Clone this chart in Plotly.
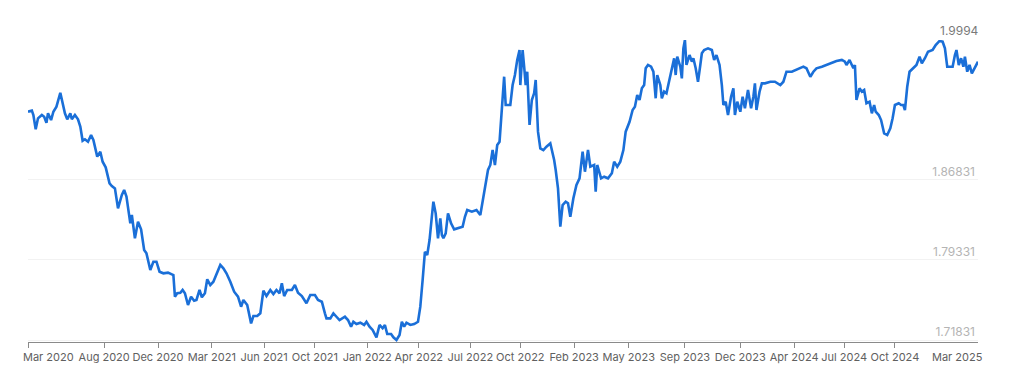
import plotly.graph_objects as go

# Trading-day index of each observation (Mar 2020 -> Mar 2025)
day = [0, 5, 7, 10, 13, 18, 21, 24, 26, 30, 33, 37, 42, 45, 48, 51, 55, 57, 61, 65,
       68, 71, 74, 78, 82, 85, 88, 90, 94, 97, 101, 106, 109, 113, 117, 122, 125, 128, 133, 135,
       139, 143, 147, 151, 154, 159, 163, 167, 171, 176, 182, 189, 191, 194, 198, 201, 204, 208, 212, 216,
       219, 223, 226, 230, 233, 237, 241, 245, 250, 254, 258, 263, 268, 273, 277, 280, 285, 290, 293, 298,
       302, 306, 310, 315, 319, 323, 327, 330, 333, 337, 343, 347, 351, 356, 362, 367, 373, 377, 382, 386,
       388, 393, 397, 401, 405, 412, 416, 420, 423, 427, 432, 437, 440, 444, 448, 453, 457, 461, 464, 467,
       472, 475, 479, 483, 486, 489, 492, 497, 502, 507, 510, 513, 516, 519, 522, 525, 527, 530, 533, 536,
       538, 540, 543, 546, 550, 554, 559, 565, 568, 571, 577, 583, 588, 591, 594, 598, 601, 604, 607, 610,
       613, 616, 619, 621, 627, 630, 633, 636, 639, 640, 643, 645, 647, 649, 652, 655, 658, 660, 663, 666,
       670, 674, 679, 681, 684, 686, 689, 692, 695, 699, 702, 705, 709, 713, 717, 721, 724, 728, 731, 736,
       738, 740, 745, 749, 754, 759, 762, 766, 770, 774, 777, 782, 786, 789, 792, 795, 798, 801, 803, 806,
       810, 813, 816, 818, 822, 824, 827, 830, 834, 837, 840, 842, 844, 848, 850, 852, 854, 856, 860, 863,
       865, 868, 871, 874, 876, 879, 884, 889, 892, 895, 899, 902, 904, 907, 910, 914, 917, 919, 922, 926,
       929, 932, 936, 940, 943, 945, 947, 951, 954, 958, 965, 971, 978, 982, 986, 993, 999, 1008, 1012, 1017,
       1021, 1025, 1032, 1038, 1045, 1051, 1058, 1062, 1064, 1068, 1071, 1073, 1075, 1077, 1081, 1084, 1087, 1090, 1094, 1097,
       1100, 1102, 1106, 1109, 1113, 1117, 1121, 1124, 1127, 1132, 1135, 1138, 1140, 1143, 1146, 1150, 1155, 1159, 1162, 1166,
       1170, 1176, 1180, 1185, 1189, 1192, 1195, 1199, 1202, 1205, 1207, 1210, 1213, 1216, 1218, 1221, 1224, 1227, 1230, 1233,
       1235]

rate = [1.9322, 1.9332, 1.9291, 1.9157, 1.9260, 1.9291, 1.9275, 1.9219, 1.9307, 1.9244, 1.9322, 1.9369, 1.9500, 1.9385, 1.9307, 1.9251, 1.9307, 1.9251, 1.9291, 1.9251,
        1.9182, 1.9050, 1.9064, 1.9041, 1.9104, 1.9057, 1.8963, 1.8901, 1.8947, 1.8854, 1.8801, 1.8651, 1.8626, 1.8604, 1.8417, 1.8542, 1.8589, 1.8526, 1.8276, 1.8354,
        1.8136, 1.8291, 1.8220, 1.8026, 1.7995, 1.7839, 1.7917, 1.7917, 1.7823, 1.7808, 1.7814, 1.7792, 1.7589, 1.7621, 1.7626, 1.7652, 1.7621, 1.7511, 1.7589, 1.7551,
        1.7558, 1.7652, 1.7583, 1.7621, 1.7752, 1.7698, 1.7729, 1.7792, 1.7886, 1.7855, 1.7808, 1.7729, 1.7636, 1.7589, 1.7495, 1.7558, 1.7511, 1.7339, 1.7408, 1.7408,
        1.7433, 1.7645, 1.7595, 1.7652, 1.7614, 1.7652, 1.7621, 1.7714, 1.7595, 1.7652, 1.7652, 1.7698, 1.7626, 1.7595, 1.7527, 1.7605, 1.7605, 1.7558, 1.7542, 1.7433,
        1.7386, 1.7386, 1.7433, 1.7401, 1.7370, 1.7401, 1.7370, 1.7308, 1.7354, 1.7333, 1.7345, 1.7324, 1.7354, 1.7308, 1.7277, 1.7208, 1.7324, 1.7293, 1.7324, 1.7239,
        1.7239, 1.7208, 1.71831, 1.7230, 1.7354, 1.7308, 1.7345, 1.7324, 1.7333, 1.7354, 1.7495, 1.7745, 1.8010, 1.7979, 1.8120, 1.8338, 1.8479, 1.8370, 1.8136, 1.8323,
        1.8167, 1.8136, 1.8183, 1.8370, 1.8276, 1.8220, 1.8230, 1.8245, 1.8338, 1.8401, 1.8385, 1.8401, 1.8354, 1.8479, 1.8607, 1.8776, 1.8823, 1.8963, 1.8823, 1.9010,
        1.9041, 1.9385, 1.9650, 1.9385, 1.9385, 1.9572, 1.9666, 1.9807, 1.9900, 1.9572, 1.9900, 1.9744, 1.9572, 1.9697, 1.9198, 1.9432, 1.9495, 1.9619, 1.9135, 1.8979,
        1.8963, 1.8994, 1.9026, 1.8963, 1.8870, 1.8776, 1.8604, 1.8245, 1.8448, 1.8479, 1.8464, 1.8338, 1.8511, 1.8635, 1.8698, 1.8947, 1.8760, 1.8963, 1.8807, 1.8823,
        1.8573, 1.8823, 1.8698, 1.8713, 1.8698, 1.8745, 1.8854, 1.8807, 1.8854, 1.8963, 1.9135, 1.9228, 1.9338, 1.9369, 1.9479, 1.9432, 1.9541, 1.9572, 1.9729, 1.9760,
        1.9744, 1.9697, 1.9448, 1.9666, 1.9572, 1.9448, 1.9510, 1.9495, 1.9635, 1.9729, 1.9823, 1.9666, 1.9838, 1.9744, 1.9635, 1.9916, 1.9994, 1.9760, 1.9853, 1.9791,
        1.9823, 1.9729, 1.9603, 1.9760, 1.9869, 1.9900, 1.9916, 1.9900, 1.9807, 1.9853, 1.9760, 1.9572, 1.9385, 1.9416, 1.9291, 1.9463, 1.9541, 1.9291, 1.9416, 1.9322,
        1.9463, 1.9354, 1.9526, 1.9354, 1.9463, 1.9588, 1.9338, 1.9510, 1.9588, 1.9588, 1.9603, 1.9603, 1.9572, 1.9603, 1.9697, 1.9697, 1.9713, 1.9744, 1.9729, 1.9650,
        1.9697, 1.9729, 1.9744, 1.9760, 1.9776, 1.9797, 1.9807, 1.9791, 1.9760, 1.9807, 1.9760, 1.9729, 1.9760, 1.9432, 1.9541, 1.9510, 1.9526, 1.9401, 1.9416, 1.9307,
        1.9385, 1.9322, 1.9291, 1.9244, 1.9120, 1.9104, 1.9167, 1.9260, 1.9385, 1.9401, 1.9385, 1.9385, 1.9338, 1.9556, 1.9697, 1.9729, 1.9760, 1.9838, 1.9776, 1.9823,
        1.9884, 1.9900, 1.9947, 1.9985, 1.9978, 1.9916, 1.9744, 1.9744, 1.9744, 1.9853, 1.9900, 1.9760, 1.9823, 1.9744, 1.9838, 1.9697, 1.9760, 1.9682, 1.9729, 1.9776,
        1.9791]

tick_days = [0, 99, 169, 239, 307, 373, 441, 508, 575, 640, 710, 781, 854, 926, 996, 1061, 1127, 1235]
tick_labels = ["Mar 2020", "Aug 2020", "Dec 2020", "Mar 2021", "Jun 2021", "Oct 2021",
               "Jan 2022", "Apr 2022", "Jul 2022", "Oct 2022", "Feb 2023", "May 2023",
               "Sep 2023", "Dec 2023", "Apr 2024", "Jul 2024", "Oct 2024", "Mar 2025"]

y_ticks = [1.71831, 1.79331, 1.86831, 1.9994]
y_labels = ["1.71831", "1.79331", "1.86831", "1.9994"]

FONT = "Inter, Liberation Sans, Arial, sans-serif"
XFONT = dict(family=FONT, size=11, color="#606060")

x_text = [""] + tick_labels[1:-1] + [""]
y_text = y_labels[:-1] + [""]

fig = go.Figure()
fig.add_trace(go.Scatter(
    x=day, y=rate, mode="lines",
    line=dict(color="#1a6fd8", width=2.6),
    cliponaxis=False, hoverinfo="skip", showlegend=False,
))

# first and last x labels, kept inside the chart
fig.add_annotation(
    x=day[0], y=0, xref="x", yref="paper",
    text=tick_labels[0], showarrow=False,
    xanchor="left", yanchor="top", xshift=-7, yshift=-6,
    font=XFONT,
)
fig.add_annotation(
    x=day[-1], y=0, xref="x", yref="paper",
    text=tick_labels[-1], showarrow=False,
    xanchor="right", yanchor="top", xshift=7, yshift=-6,
    font=XFONT,
)
# top y label (maximum)
fig.add_annotation(
    x=1, y=y_ticks[-1], xref="paper", yref="y",
    text=y_labels[-1], showarrow=False,
    xanchor="right", yanchor="bottom", xshift=3, yshift=0,
    font=dict(family=FONT, size=12, color="#7a7a7a"),
)

fig.update_layout(
    width=1024, height=367,
    margin=dict(l=28, r=46, t=40, b=25),
    paper_bgcolor="white", plot_bgcolor="white",
    font=dict(family=FONT),
    xaxis=dict(
        range=[day[0], day[-1]],
        tickmode="array", tickvals=tick_days, ticktext=x_text,
        tickangle=0, automargin=False,
        showgrid=False, zeroline=False,
        showline=True, linecolor="#8a8a8a", linewidth=1,
        ticks="outside", ticklen=5, tickcolor="#8a8a8a", tickwidth=1,
        tickfont=XFONT,
    ),
    yaxis=dict(
        range=[1.71644, 1.9994],
        side="right", automargin=False,
        tickmode="array", tickvals=y_ticks, ticktext=y_text,
        ticklabelposition="inside top",
        showgrid=True, gridcolor="#f2f2f2", gridwidth=1,
        zeroline=False, showline=False, ticks="",
        tickfont=dict(family=FONT, size=12, color="#b4b4b4"),
    ),
)

fig.write_html(
    "out.html",
    config={"displayModeBar": False, "staticPlot": True},
    post_script="document.body.style.margin='0';document.body.style.overflow='hidden';",
)
